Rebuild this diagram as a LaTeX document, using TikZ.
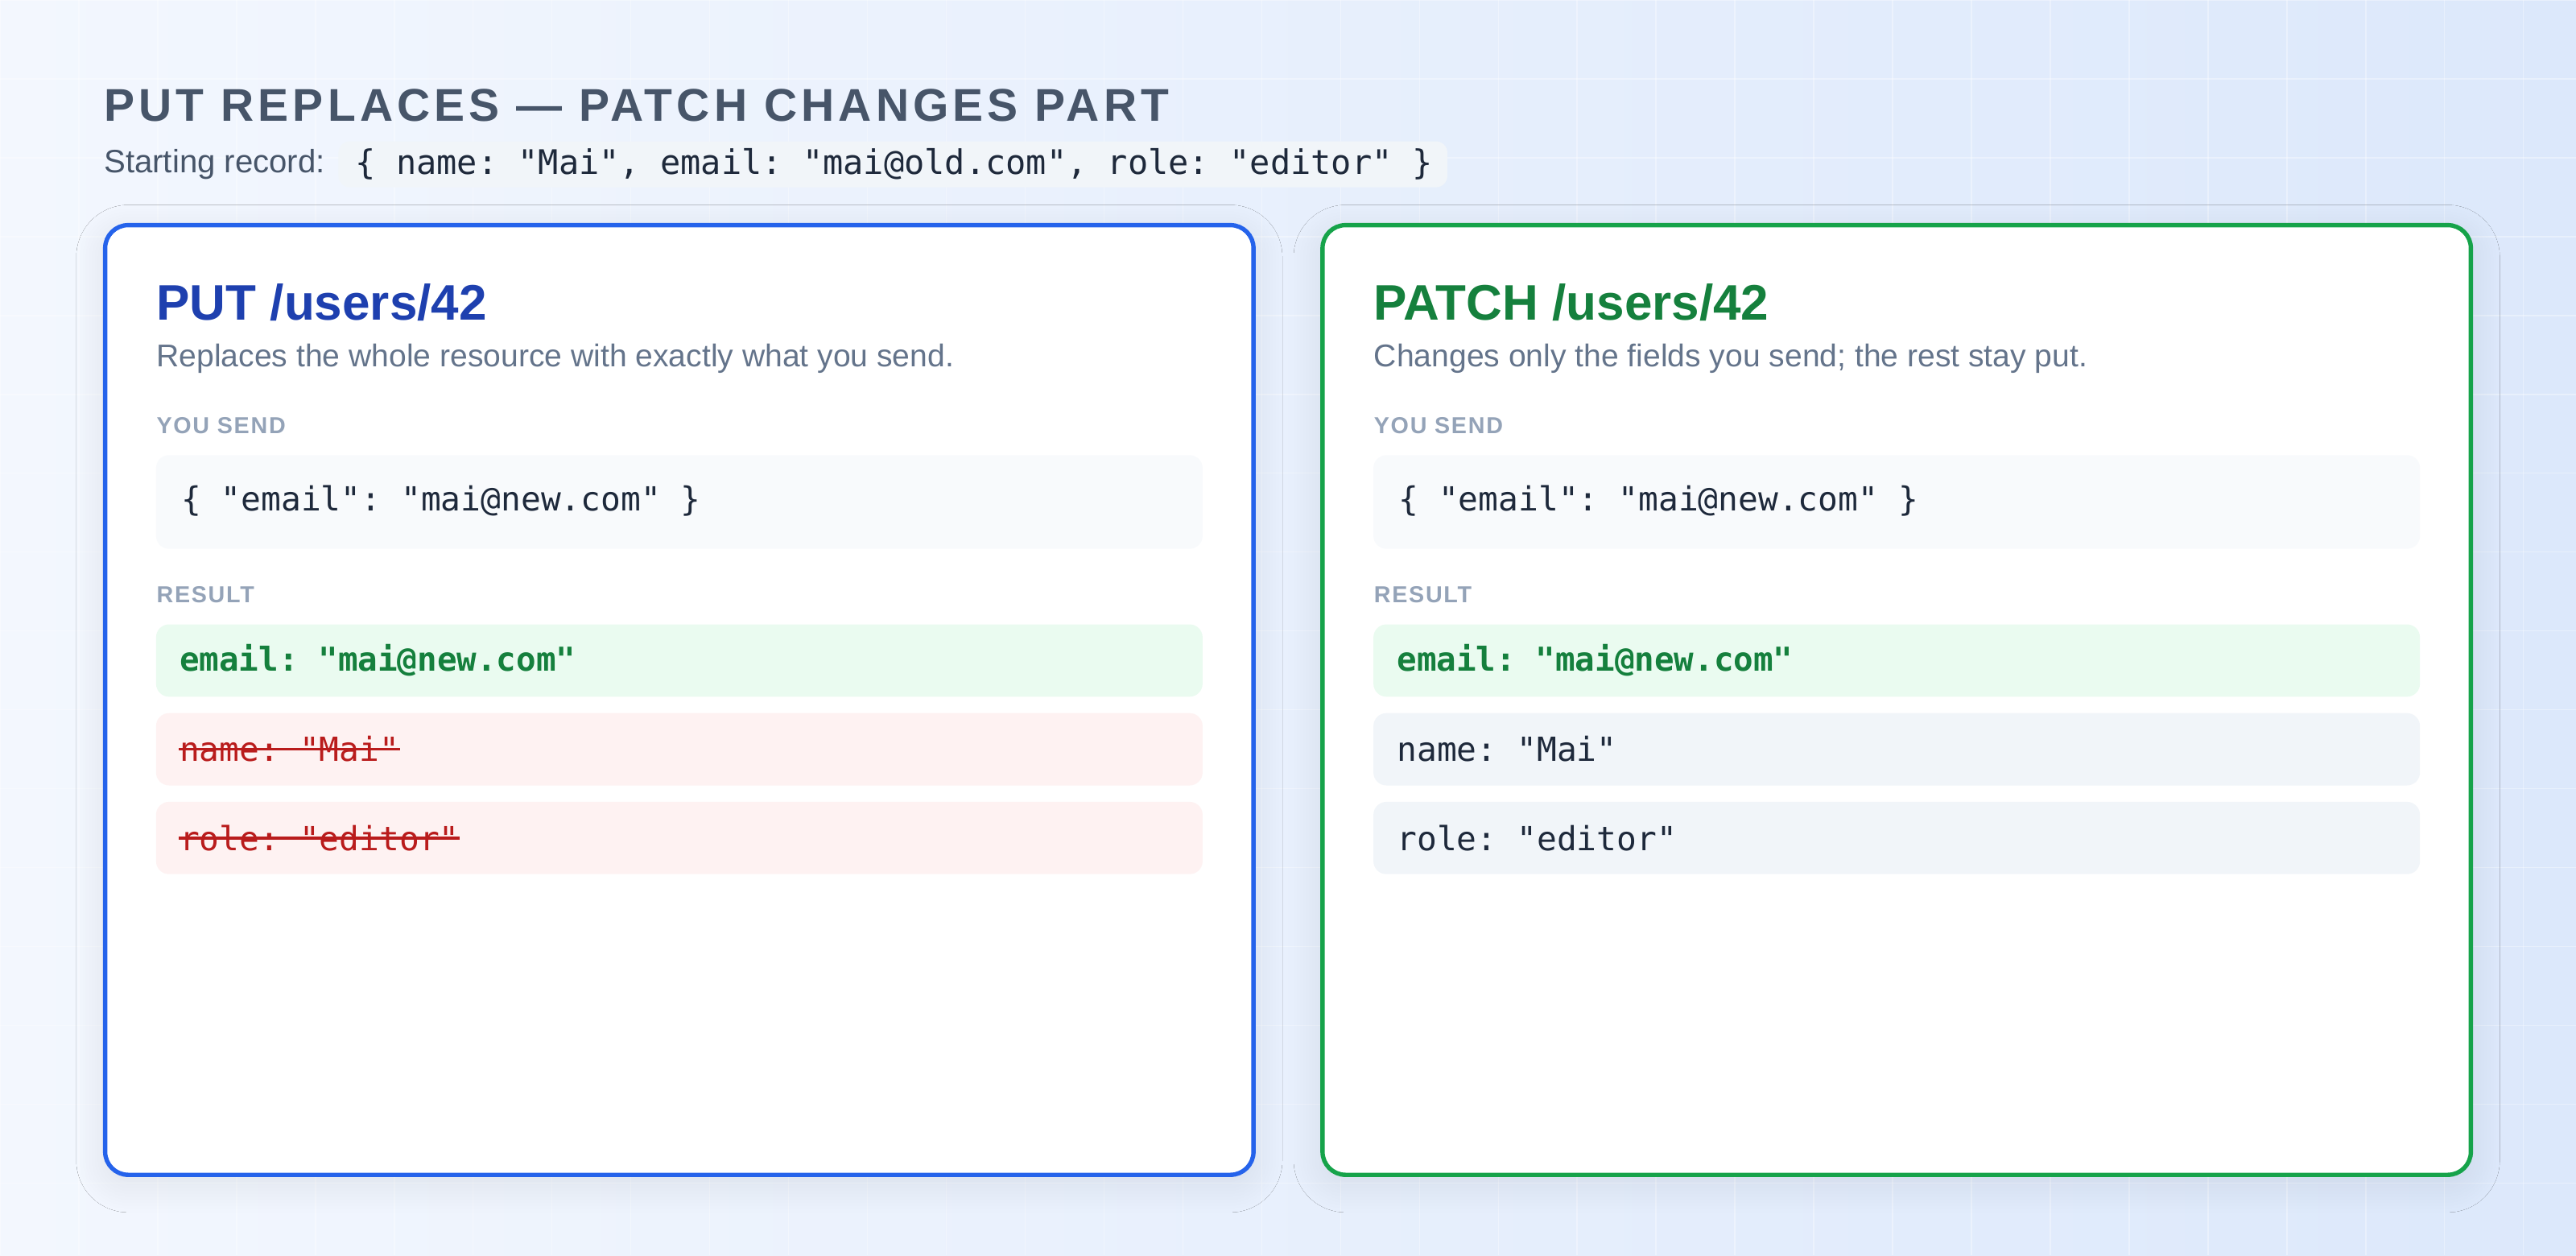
\documentclass[tikz,border=0pt]{standalone}
\usepackage{fontspec}
\setmainfont{Liberation Sans}
\setmonofont{DejaVu Sans Mono}
\newfontfamily\spacedfont[LetterSpace=9]{Liberation Sans}
\newfontfamily\labelfont[LetterSpace=6]{Liberation Sans}
\usetikzlibrary{positioning,shadows.blur}
\definecolor{bgA}{HTML}{F3F7FE}
\definecolor{bgB}{HTML}{DCE8FB}
\definecolor{slate}{HTML}{475569}
\definecolor{muted}{HTML}{64748B}
\definecolor{faint}{HTML}{94A3B8}
\definecolor{ink}{HTML}{1E293B}
\definecolor{putblue}{HTML}{2563EB}
\definecolor{putdark}{HTML}{1E40AF}
\definecolor{patchgreen}{HTML}{16A34A}
\definecolor{patchdark}{HTML}{15803D}
\definecolor{okfill}{HTML}{EAFBF0}
\definecolor{badfill}{HTML}{FEF2F2}
\definecolor{badtext}{HTML}{B91C1C}
\definecolor{keepfill}{HTML}{F1F5F9}
\definecolor{sendfill}{HTML}{F8FAFC}

\begin{document}
\begin{tikzpicture}[x=0.02cm,y=-0.02cm,
        card/.style={draw=#1,line width=1.5pt,fill=white,rounded corners=8pt,
            blur shadow={shadow blur steps=10,shadow blur radius=10pt,shadow xshift=0pt,shadow yshift=-3pt,shadow opacity=8}},
        heading/.style={anchor=west,inner sep=0pt,font=\fontsize{17.3}{20}\selectfont\bfseries,text=#1},
        blurb/.style={anchor=west,inner sep=0pt,font=\fontsize{10.9}{13}\selectfont,text=muted},
        tag/.style={anchor=west,inner sep=0pt,font=\labelfont\fontsize{8}{10}\selectfont\bfseries,text=faint},
        rowtext/.style={anchor=west,inner sep=0pt,font=\ttfamily\fontsize{11.5}{13}\selectfont,text=#1},
        okrow/.style={rowtext=patchdark,font=\ttfamily\bfseries\fontsize{11.4}{13}\selectfont}]
    \useasboundingbox (0,0) rectangle (1568,764);
    % background
    \shade[left color=bgA,right color=bgB] (0,0) rectangle (1568,764);
    \foreach \gx in {0,48,...,1568} \draw[white,opacity=0.35,line width=0.4pt] (\gx,0) -- (\gx,764);
    \foreach \gy in {0,48,...,764} \draw[white,opacity=0.35,line width=0.4pt] (0,\gy) -- (1568,\gy);

    % title and starting record
    \node[anchor=west,inner sep=0pt,text=slate,font=\spacedfont\fontsize{15.9}{18}\selectfont\bfseries] (title) at (63,64) {PUT REPLACES — PATCH CHANGES PART};
    \node[anchor=west,inner sep=0pt,text=slate,font=\fontsize{11.2}{13}\selectfont] (start) at (63,100) {Starting record:};
    \fill[keepfill,rounded corners=4pt] (206,86) rectangle (881,114);
    \node[anchor=west,inner sep=0pt,text=ink,font=\ttfamily\fontsize{11.7}{13}\selectfont] (record) at (216,100) {\{ name: "Mai", email: "mai@old.com", role: "editor" \}};

    % cards
    \draw[card=putblue] (64,137) rectangle (763,715);
    \draw[card=patchgreen] (805,137) rectangle (1504,715);

    \foreach \cx/\method/\col/\say/\side in {95/PUT/putdark/{Replaces the whole resource with exactly what you send.}/put,
                                            836/PATCH/patchdark/{Changes only the fields you send; the rest stay put.}/patch} {
        \node[heading=\col] (\side-head) at (\cx,184) {\method\ /users/42};
        \node[blurb] (\side-blurb) at (\cx,218) {\say};
        \node[tag] (\side-send) at (\cx,259) {YOU SEND};
        \fill[sendfill,rounded corners=4.5pt] (\cx,277) rectangle ++(637,57);
        \node[rowtext=ink] (\side-body) at (\cx+15,305) {\{ "email": "mai@new.com" \}};
        \node[tag] (\side-result) at (\cx,362) {RESULT};
        \fill[okfill,rounded corners=4.5pt] (\cx,380) rectangle ++(637,44);
        \node[okrow] (\side-email) at (\cx+14,402) {email: "mai@new.com"};
    }

    % PUT: dropped fields
    \fill[badfill,rounded corners=4.5pt] (95,434) rectangle (732,478);
    \fill[badfill,rounded corners=4.5pt] (95,488) rectangle (732,532);
    \node[rowtext=badtext] (put-name) at (109,456) {name: "Mai"};
    \node[rowtext=badtext] (put-role) at (109,510) {role: "editor"};
    \draw[badtext,line width=1pt] (put-name.west) -- (put-name.east);
    \draw[badtext,line width=1pt] (put-role.west) -- (put-role.east);

    % PATCH: kept fields
    \fill[keepfill,rounded corners=4.5pt] (836,434) rectangle (1473,478);
    \fill[keepfill,rounded corners=4.5pt] (836,488) rectangle (1473,532);
    \node[rowtext=ink] (patch-name) at (850,456) {name: "Mai"};
    \node[rowtext=ink] (patch-role) at (850,510) {role: "editor"};
\end{tikzpicture}
\end{document}
